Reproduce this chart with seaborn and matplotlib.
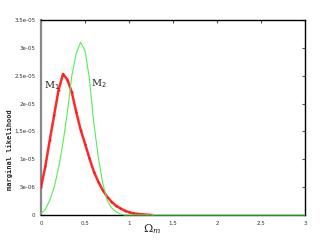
import numpy as np
import pandas as pd
import matplotlib
matplotlib.use('Agg')
import matplotlib.pyplot as plt
import seaborn as sns

# values (likelihood in units of 1e-6)
omega_m1 = [0, 0.05, 0.1, 0.15, 0.2, 0.25, 0.3, 0.35, 0.4, 0.45, 0.5, 0.55, 0.6,
            0.65, 0.7, 0.75, 0.8, 0.85, 0.9, 0.95, 1.0, 1.05, 1.1, 1.15, 1.2, 1.26]
like_m1 = [5.0, 8.8, 13.5, 18.0, 22.5, 25.3, 24.3, 22.0, 18.5, 15.3, 12.8, 10.2, 7.8,
           6.0, 4.5, 3.3, 2.4, 1.7, 1.2, 0.8, 0.5, 0.3, 0.2, 0.12, 0.06, 0.0]

omega_m2 = [0, 0.05, 0.1, 0.15, 0.2, 0.25, 0.3, 0.35, 0.4, 0.45, 0.5, 0.55, 0.6,
            0.65, 0.7, 0.75, 0.8, 0.85, 0.9, 0.95, 3.0]
like_m2 = [0.3, 1.0, 2.7, 5.0, 8.5, 13.0, 18.5, 25.0, 29.0, 31.0, 29.5, 24.5, 16.5,
           10.5, 5.8, 2.7, 1.3, 0.6, 0.2, 0.0, 0.0]

x_ticks = [0, 0.5, 1, 1.5, 2, 2.5, 3]
x_labels = ['0', '0.5', '1', '1.5', '2', '2.5', '3']
y_ticks = [0, 5e-6, 1e-5, 1.5e-5, 2e-5, 2.5e-5, 3e-5, 3.5e-5]
y_labels = ['0', '5e-06', '1e-05', '1.5e-05', '2e-05', '2.5e-05', '3e-05', '3.5e-05']

df1 = pd.DataFrame({'om': omega_m1, 'L': np.array(like_m1) * 1e-6})
df2 = pd.DataFrame({'om': omega_m2, 'L': np.array(like_m2) * 1e-6})

sns.set_style('white')
fig = plt.figure(figsize=(3.26, 2.43), dpi=100)
ax = fig.add_axes([0.1258, 0.1152, 0.81, 0.8025])

sns.lineplot(data=df2, x='om', y='L', ax=ax, color='#55ee55', lw=0.8, clip_on=False, zorder=4)
sns.lineplot(data=df1, x='om', y='L', ax=ax, color='#ff1111', lw=1.8, zorder=3,
             marker='o', markersize=1.5, markeredgewidth=0, alpha=0.9)

ax.set_xlim(0, 3)
ax.set_ylim(0, 3.5e-5)
ax.set_xticks(x_ticks)
ax.set_xticklabels(x_labels)
ax.set_yticks(y_ticks)
ax.set_yticklabels(y_labels)
ax.tick_params(direction='in', length=2.5, width=0.8, labelsize=4, colors='#555555',
               top=True, right=True, pad=4)
ax.tick_params(labelcolor='#333333')
for s in ax.spines.values():
    s.set_color('black')
    s.set_linewidth(1.0)
ax.spines['left'].set_color('#888888')
ax.spines['left'].set_linewidth(1.6)

ax.set_xlabel('')
ax.set_ylabel('')
ax.text(0.125, 2.33e-5, r'M$_1$', fontsize=7, family='DejaVu Serif', ha='center', va='center')
ax.text(0.66, 2.35e-5, r'M$_2$', fontsize=7, family='DejaVu Serif', ha='center', va='center')
fig.text(152 / 326, 1 - 229 / 243, r'$\Omega_m$', fontsize=8, ha='center', va='center',
         math_fontfamily='dejavuserif')
fig.text(10 / 326, 1 - 150 / 243, 'marginal likelihood', rotation=90, fontsize=5,
         family='DejaVu Sans Mono', fontweight='bold', ha='center', va='center')

fig.savefig('out.png', dpi=100)
